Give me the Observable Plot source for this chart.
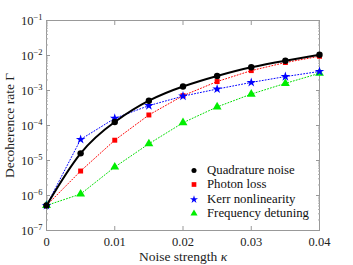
<!DOCTYPE html>
<html><head><meta charset="utf-8">
<script src="https://cdn.jsdelivr.net/npm/d3@7"></script>
<script src="https://cdn.jsdelivr.net/npm/@observablehq/plot@0.6"></script>
<style>
body{margin:0;background:#fff;}
#wrap{position:relative;width:353px;height:265px;font-family:'Liberation Serif',serif;}
#legend{position:absolute;left:188px;top:163px;font-size:12.8px;line-height:14.3px;color:#111;font-family:'Liberation Serif',serif;}
#legend div{display:flex;align-items:center;white-space:nowrap;}
#legend svg{margin-right:7px;}
svg text{font-family:'Liberation Serif',serif !important;}
</style></head>
<body><div id="wrap"><div id="legend"></div></div>
<script>
const kappa = [0, 0.005, 0.01, 0.015, 0.02, 0.025, 0.03, 0.035, 0.04];
const quadrature = [5.2e-7, 1.6e-5, 1.26e-4, 5.1e-4, 1.3e-3, 2.6e-3, 4.6e-3, 7.1e-3, 1.05e-2];
const photonLoss = [5.2e-7, 5.0e-6, 3.8e-5, 2.0e-4, 7.1e-4, 1.8e-3, 3.7e-3, 6.3e-3, 9.5e-3];
const kerr = [5.2e-7, 4.0e-5, 1.6e-4, 3.7e-4, 6.9e-4, 1.1e-3, 1.7e-3, 2.5e-3, 3.5e-3];
const detuning = [5.2e-7, 1.1e-6, 6.5e-6, 3.0e-5, 1.2e-4, 3.4e-4, 7.9e-4, 1.6e-3, 3.1e-3];
const seriesNames = ["Quadrature noise", "Photon loss", "Kerr nonlinearity", "Frequency detuning"];
const xTicks = [0, 0.01, 0.02, 0.03, 0.04];
const xTickLabels = ["0", "0.01", "0.02", "0.03", "0.04"];
const yExponents = [-7, -6, -5, -4, -3, -2, -1];

const toRows = vals => kappa.map((k, i) => ({k, v: vals[i]}));
const qRows = toRows(quadrature), pRows = toRows(photonLoss), kRows = toRows(kerr), dRows = toRows(detuning);
const yMajor = yExponents.map(e => Math.pow(10, e));
const yMinor = [];
for (let e = -7; e < -1; e++) for (let m = 2; m <= 9; m++) yMinor.push(m * Math.pow(10, e));

const serif = "Liberation Serif, serif";
const axisFont = {fontFamily: serif, fontSize: 12.5};
const blank = () => "";

const chart = Plot.plot({
  width: 353, height: 265,
  marginLeft: 46, marginRight: 34, marginTop: 20, marginBottom: 35,
  style: {fontFamily: serif, fontSize: "12.5px", color: "#222", background: "white"},
  x: {domain: [0, 0.04]},
  y: {type: "log", domain: [1e-7, 1e-1]},
  marks: [
    Plot.frame({stroke: "#999", strokeWidth: 1}),
    Plot.axisX({anchor: "bottom", ticks: xTicks, tickSize: -4, tickFormat: blank, stroke: "#999", label: null}),
    Plot.axisX({anchor: "top", ticks: xTicks, tickSize: -4, tickFormat: blank, stroke: "#999", label: null}),
    Plot.axisY({anchor: "left", ticks: yMajor, tickSize: -4, tickFormat: blank, stroke: "#999", label: null}),
    Plot.axisY({anchor: "right", ticks: yMajor, tickSize: -4, tickFormat: blank, stroke: "#999", label: null}),
    Plot.axisY({anchor: "left", ticks: yMinor, tickSize: -2, tickFormat: blank, stroke: "#aaa", label: null}),
    Plot.axisY({anchor: "right", ticks: yMinor, tickSize: -2, tickFormat: blank, stroke: "#aaa", label: null}),
    Plot.axisX({anchor: "bottom", ticks: xTicks, tickSize: 0, tickPadding: 7,
      tickFormat: (d, i) => xTickLabels[i], ...axisFont,
      label: "Noise strength κ", labelAnchor: "center", labelArrow: "none", labelOffset: 30}),
    Plot.axisY({anchor: "left", ticks: yMajor, tickSize: 0, tickPadding: 4,
      tickFormat: d => "10^" + Math.round(Math.log10(d)), ...axisFont,
      label: "Decoherence rate Γ", labelAnchor: "center", labelArrow: "none", labelOffset: 42}),
    Plot.line(pRows, {x: "k", y: "v", stroke: "#ff0000", strokeWidth: 1, strokeDasharray: "1,2"}),
    Plot.line(kRows, {x: "k", y: "v", stroke: "#0000ff", strokeWidth: 1, strokeDasharray: "1,2"}),
    Plot.line(dRows, {x: "k", y: "v", stroke: "#00dd00", strokeWidth: 1, strokeDasharray: "1,2"}),
    Plot.line(qRows, {x: "k", y: "v", stroke: "#000", strokeWidth: 2, curve: "natural"}),
    Plot.dot(pRows, {x: "k", y: "v", symbol: "square", r: 2.8, fill: "#ff0000"}),
    Plot.dot(dRows, {x: "k", y: "v", symbol: "triangle", r: 3.3, fill: "#00ee00"}),
    Plot.dot(kRows, {x: "k", y: "v", symbol: "star", r: 3, fill: "#0000ff"}),
    Plot.dot(qRows, {x: "k", y: "v", symbol: "circle", r: 3.2, fill: "#000"})
  ]
});

const wrap = document.getElementById("wrap");
wrap.insertBefore(chart, wrap.firstChild);

d3.select(chart).selectAll("text").each(function() {
  const t = d3.select(this);
  const s = t.text();
  const m = /^10\^(-?\d+)$/.exec(s);
  if (m) {
    t.text("10");
    t.append("tspan").attr("dy", "-0.5em").attr("font-size", "8.5px").text(m[1].replace("-", "\u2212"));
  } else if (s === "Noise strength κ") {
    t.text("Noise strength ").attr("font-size", "13.5px");
    t.append("tspan").attr("font-style", "italic").text("κ");
  } else if (s === "Decoherence rate Γ") {
    t.attr("font-size", "13.5px");
  }
});

const legend = d3.select("#legend");
const symbols = [d3.symbolCircle, d3.symbolSquare, d3.symbolStar, d3.symbolTriangle];
const colors = ["#000", "#ff0000", "#0000ff", "#00ee00"];
const sizes = [20, 22, 20, 22];
seriesNames.forEach((name, i) => {
  const row = legend.append("div");
  const s = row.append("svg").attr("width", 12).attr("height", 12);
  s.append("path").attr("transform", "translate(6,6.5)")
    .attr("d", d3.symbol(symbols[i], sizes[i])()).attr("fill", colors[i]);
  row.append("span").style("font-family", "'Liberation Serif', serif").text(name);
});
</script>
</body></html>
